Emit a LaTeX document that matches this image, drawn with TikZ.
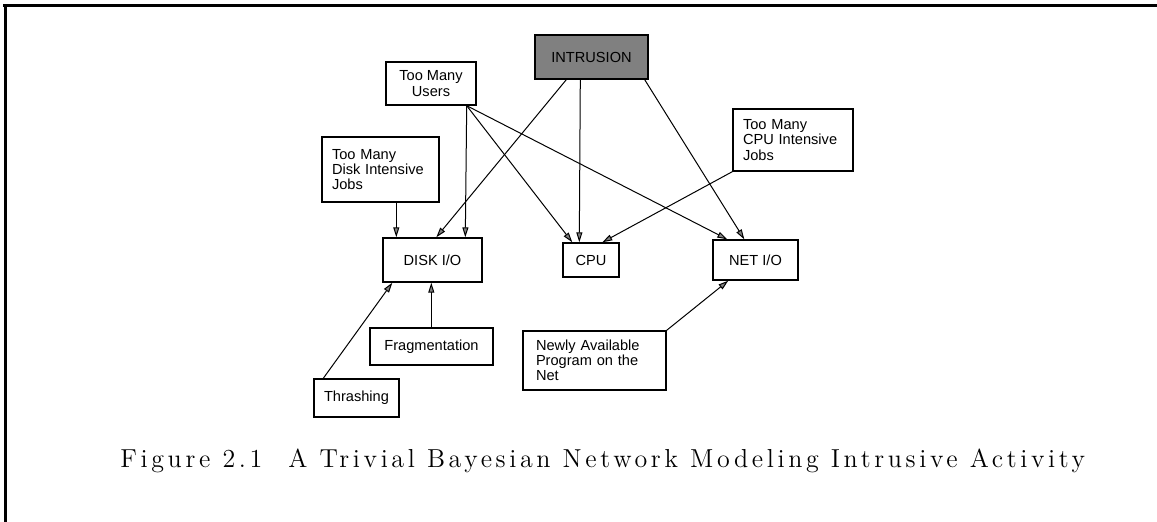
\documentclass[tikz,border=0pt]{standalone}
\usepackage{fontspec}
\usetikzlibrary{arrows.meta,calc}
\newfontfamily\boxfont{Liberation Sans}
\newfontfamily\capfont[LetterSpace=14]{Latin Modern Roman}
\tikzset{
  nodebox/.style={draw, line width=0.7pt, inner sep=0pt,
    font=\boxfont\fontsize{7.3}{7.6}\selectfont},
  textbox/.style={nodebox, align=left},
  arr/.style={line width=0.5pt,
    -{Triangle[length=5pt,width=3pt,fill=gray]}},
  frame/.style={line width=1.5pt}
}
\begin{document}
\begin{tikzpicture}[x=0.5pt,y=-0.5pt]
\useasboundingbox (0,0) rectangle (1157,522);
% page frame
\draw[frame] (3,6) -- (1157,6);
\draw[frame] (5,6) -- (5,522);

% nodes of the network
\node[nodebox, fill=gray, minimum width=56.5pt, minimum height=22pt] (intr) at (591.5,57) {INTRUSION};
\node[nodebox, align=center, minimum width=45pt, minimum height=21.5pt] (users) at (431,83.5) {Too Many\\Users};
\node[textbox, inner xsep=5pt, text width=48.5pt, minimum height=32.5pt] (diskjobs) at (380.5,169.5) {Too Many\\Disk Intensive\\Jobs};
\node[textbox, inner xsep=5pt, text width=50pt, minimum height=31pt] (cpujobs) at (793,140) {Too Many\\CPU Intensive\\Jobs};
\node[nodebox, minimum width=49.5pt, minimum height=22pt] (disk) at (432.5,260) {DISK I/O};
\node[nodebox, minimum width=28pt, minimum height=17pt] (cpu) at (591,260) {CPU};
\node[nodebox, minimum width=42.5pt, minimum height=20pt] (net) at (755.5,260) {NET I/O};
\node[nodebox, minimum width=61.5pt, minimum height=18.5pt] (frag) at (431.5,346.5) {Fragmentation};
\node[nodebox, minimum width=42.5pt, minimum height=19pt] (thrash) at (356.5,398) {Thrashing};
\node[textbox, inner xsep=6.5pt, text width=58.5pt, minimum height=29.5pt] (newly) at (594.5,360.5) {Newly Available\\Program on the\\Net};

% dependencies
\draw[arr] ($(intr.south west)+(32,0)$) -- ($(disk.north west)+(54,0)$);
\draw[arr] ($(intr.south west)+(46,0)$) -- ($(cpu.north west)+(17,0)$);
\draw[arr] ($(intr.south east)+(-4,0)$) -- ($(net.north west)+(32,0)$);
\draw[arr] ($(users.south east)+(-10,0)$) -- ($(disk.north west)+(83,0)$);
\draw[arr] ($(users.south east)+(-10,0)$) -- ($(cpu.north west)+(10,0)$);
\draw[arr] ($(users.south east)+(-10,0)$) -- ($(net.north west)+(15,0)$);
\draw[arr] ($(diskjobs.south west)+(75,0)$) -- ($(disk.north west)+(14,0)$);
\draw[arr] (cpujobs.south west) -- ($(cpu.north west)+(40,0)$);
\draw[arr] ($(thrash.north west)+(10,0)$) -- ($(disk.south west)+(10,0)$);
\draw[arr] ($(frag.north west)+(62,0)$) -- ($(disk.south west)+(49,0)$);
\draw[arr] (newly.north east) -- ($(net.south west)+(16,0)$);

% caption
\node[anchor=base west, inner sep=0pt, font=\capfont\fontsize{13}{15}\selectfont] (caption) at (120,468)
  {Figure 2.1\hspace{1em}A Trivial Bayesian Network Modeling Intrusive Activity};
\end{tikzpicture}
\end{document}
